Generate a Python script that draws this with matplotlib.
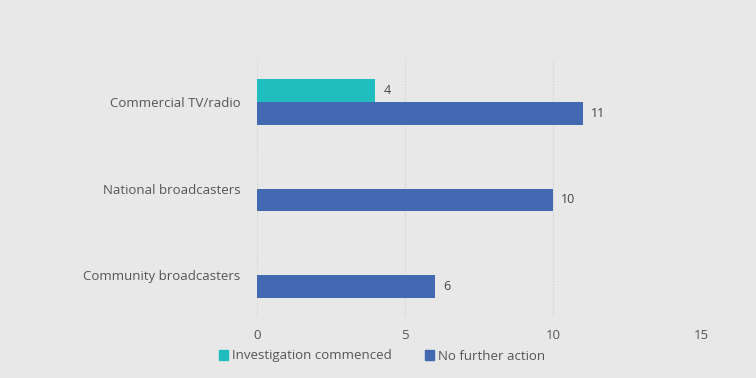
import matplotlib
matplotlib.use("Agg")
import matplotlib.pyplot as plt
import numpy as np
from matplotlib.patches import Patch

categories = ["Commercial TV/radio", "National broadcasters", "Community broadcasters"]
investigation = [4, 0, 0]
no_further = [11, 10, 6]
series_names = ["Investigation commenced", "No further action"]
x_ticks = [0, 5, 10, 15]

bg = "#e8e8e8"
c_teal = "#1fbdbd"
c_blue = "#4369b3"
txt = "#555555"

plt.rcParams['font.family'] = ['Open Sans', 'DejaVu Sans']

fig = plt.figure(figsize=(7.56, 3.78), dpi=100, facecolor=bg)
ax = fig.add_axes([257/756, 1-318/378, (701-257)/756, (318-59)/378])
ax.set_facecolor(bg)

y = np.arange(len(categories))
h = 23/86.5
for i, (a, b) in enumerate(zip(investigation, no_further)):
    if a:
        ax.barh(y[i] - h/2, a, height=h, color=c_teal)
        ax.text(a + 0.28, y[i] - h/2, str(a), va='center', ha='left', fontsize=9, color='#444444')
    ax.barh(y[i] + h/2, b, height=h, color=c_blue)
    ax.text(b + 0.28, y[i] + h/2, str(b), va='center', ha='left', fontsize=9, color='#444444')

ax.set_ylim(len(categories) - 0.5, -0.5)
ax.set_xlim(0, 15)
ax.set_xticks(x_ticks)
ax.set_xticklabels([str(t) for t in x_ticks])
ax.set_yticks(y)
ax.set_yticklabels(categories)
ax.tick_params(axis='both', length=0, colors=txt, labelsize=9.5)
ax.tick_params(axis='x', pad=8)
ax.tick_params(axis='y', pad=12)
for s in ax.spines.values():
    s.set_visible(False)
ax.grid(axis='x', color='#cfcfcf', linestyle=(0, (1, 1.5)), linewidth=0.8)
ax.set_axisbelow(True)

handles = [Patch(color=c_teal), Patch(color=c_blue)]
fig.legend(handles, series_names, loc='center', bbox_to_anchor=(382/756, 1-356/378),
           ncol=2, frameon=False, fontsize=9.5, labelcolor=txt,
           handlelength=0.7, handleheight=0.7, handletextpad=0.3, columnspacing=2.5)

fig.savefig("out.png", dpi=100, facecolor=bg)
